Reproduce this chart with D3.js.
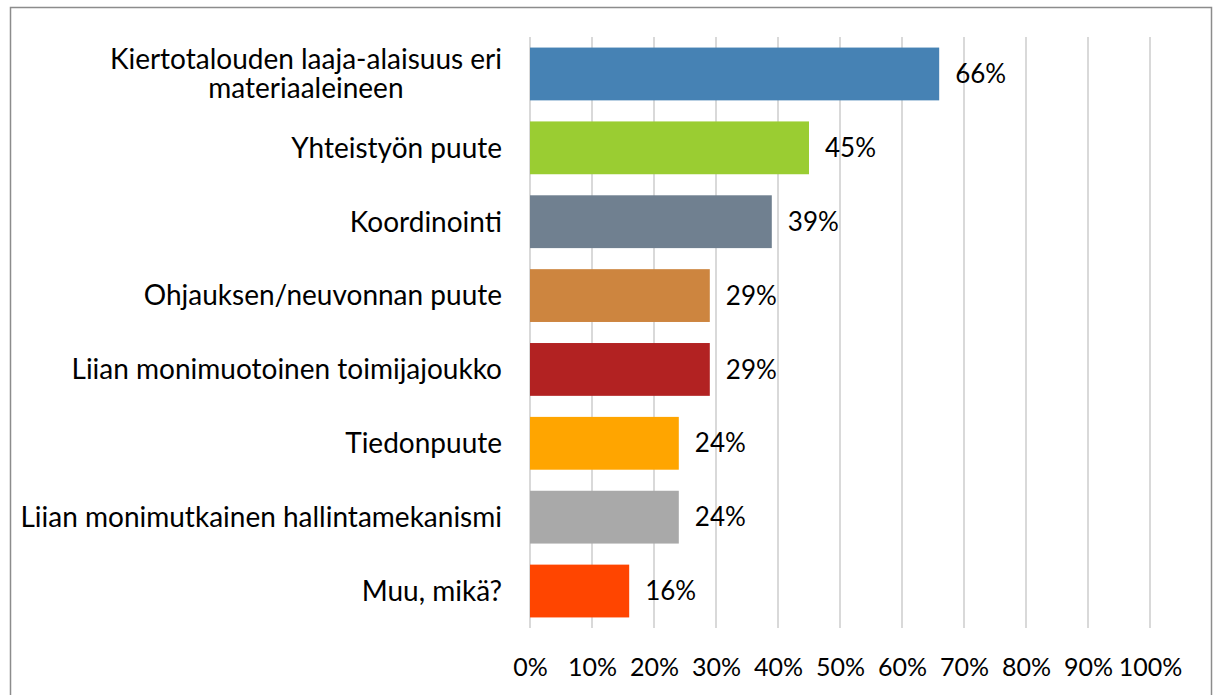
<!DOCTYPE html>
<html>
<head>
<meta charset="utf-8">
<script src="https://cdn.jsdelivr.net/npm/d3@7"></script>
<style>
  body { margin: 0; background: #fff; }
  text { font-family: Lato, "Open Sans", sans-serif; fill: #000; }
</style>
</head>
<body>
<svg id="chart" width="1216" height="695"></svg>
<script>
// categories top to bottom, values in percent
const categories = [
    ["Kiertotalouden laaja-alaisuus eri", "materiaaleineen"],
    ["Yhteistyön puute"],
    ["Koordinointi"],
    ["Ohjauksen/neuvonnan puute"],
    ["Liian monimuotoinen toimijajoukko"],
    ["Tiedonpuute"],
    ["Liian monimutkainen hallintamekanismi"],
    ["Muu, mikä?"]
];
const values = [66, 45, 39, 29, 29, 24, 24, 16];
const barColors = ["steelblue", "yellowgreen", "slategray", "peru", "firebrick", "orange", "darkgray", "orangered"];
const xTicks = [0, 10, 20, 30, 40, 50, 60, 70, 80, 90, 100];

const svg = d3.select("#chart");

// outer border (bottom runs past the picture)
svg.append("rect")
    .attr("x", 10.5).attr("y", 7.5)
    .attr("width", 1201).attr("height", 700)
    .attr("fill", "none")
    .attr("stroke", "#8c8c8c")
    .attr("stroke-width", 1.5);

const plot = { left: 530, right: 1150, top: 37, bottom: 628 };

let xScale = d3.scaleLinear().domain([0, 100]).range([plot.left, plot.right]);
let yScale = d3.scaleBand()
    .domain(d3.range(values.length))
    .range([plot.top, plot.bottom])
    .paddingInner(0.285)
    .paddingOuter(0.143);

// gridlines
svg.append("g")
    .selectAll("line")
    .data(xTicks)
    .enter()
    .append("line")
    .attr("x1", d => xScale(d)).attr("x2", d => xScale(d))
    .attr("y1", plot.top).attr("y2", plot.bottom)
    .attr("stroke", "#d9d9d9")
    .attr("stroke-width", 2);

// bars
svg.append("g")
    .selectAll("rect")
    .data(values)
    .enter()
    .append("rect")
    .attr("x", xScale(0))
    .attr("y", (d, i) => yScale(i))
    .attr("width", d => xScale(d) - xScale(0))
    .attr("height", yScale.bandwidth())
    .attr("fill", (d, i) => barColors[i]);

// value labels
svg.append("g")
    .selectAll("text")
    .data(values)
    .enter()
    .append("text")
    .attr("x", d => xScale(d) + 16)
    .attr("y", (d, i) => yScale(i) + yScale.bandwidth() / 2)
    .attr("dy", "0.35em")
    .attr("font-size", "26px")
    .text(d => d + "%");

// category labels: block right aligned, lines centred inside it
const labelRight = 502;
let cats = svg.append("g")
    .selectAll("text")
    .data(categories)
    .enter()
    .append("text")
    .attr("text-anchor", "middle")
    .attr("font-size", "28px")
    .attr("y", (d, i) => yScale(i) + yScale.bandwidth() / 2);

cats.selectAll("tspan")
    .data(d => d.map((t, j) => ({ t, j, n: d.length })))
    .enter()
    .append("tspan")
    .attr("x", 0)
    .attr("dy", d => d.j === 0 ? (d.n > 1 ? "-0.16em" : "0.35em") : "1.02em")
    .text(d => d.t);

cats.each(function() {
    let w = this.getBBox().width;
    d3.select(this).selectAll("tspan").attr("x", labelRight - w / 2);
});

// x axis labels
let xAxis = d3.axisBottom(xScale)
    .tickValues(xTicks)
    .tickFormat(d => d + "%")
    .tickSize(0)
    .tickPadding(0);

svg.append("g")
    .attr("transform", "translate(0, 658)")
    .call(xAxis)
    .call(g => g.select(".domain").remove())
    .selectAll("text")
    .attr("font-size", "25px")
    .attr("font-family", "Lato, 'Open Sans', sans-serif")
    .attr("fill", "#000");
</script>
</body>
</html>
